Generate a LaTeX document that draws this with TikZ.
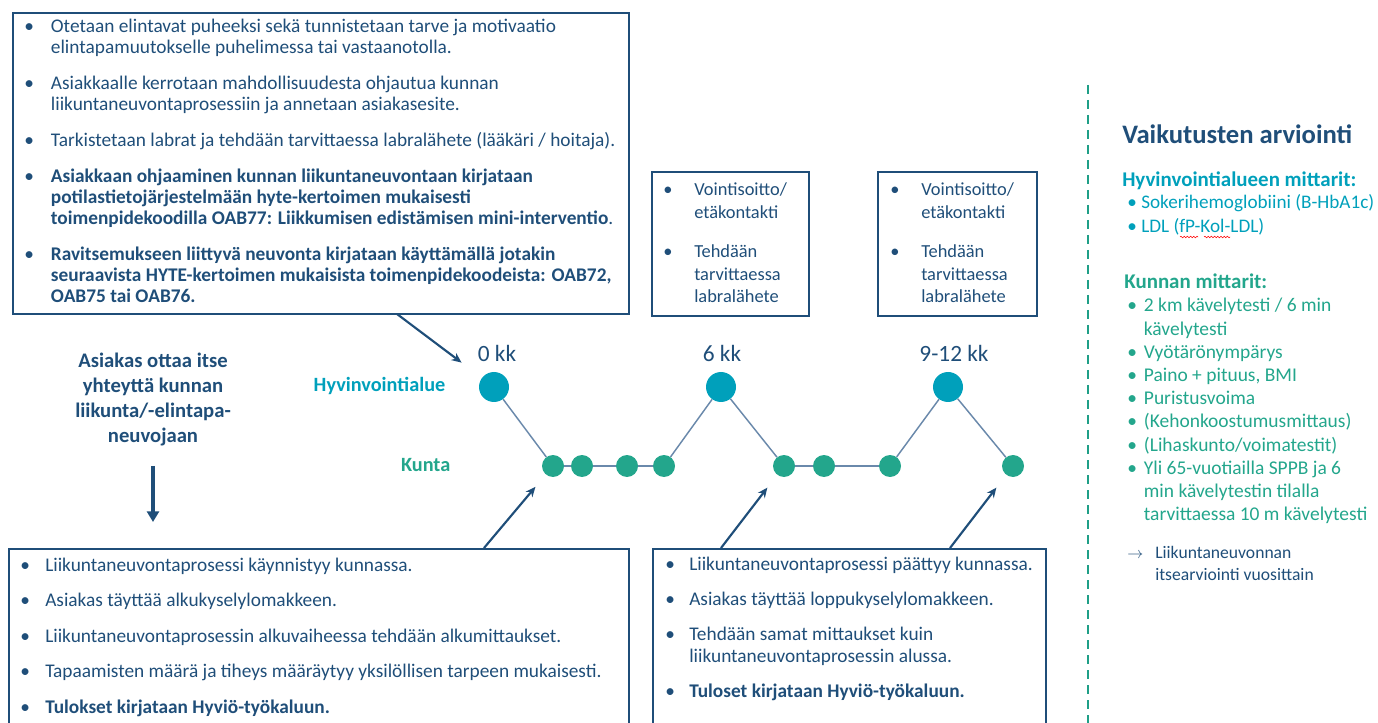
\documentclass[tikz,border=0pt]{standalone}
\usepackage{fontspec}
\setmainfont{Carlito}
\usetikzlibrary{arrows.meta,decorations.pathmorphing}

\definecolor{navy}{HTML}{1F4E79}
\definecolor{hva}{HTML}{00A0BB}
\definecolor{kun}{HTML}{23A68C}
\definecolor{link}{HTML}{6A89AB}
\definecolor{sep}{HTML}{1F9F87}

% bullet rows: first column holds the bullet, second the text
\newcommand{\blist}[2]{\begin{tabular}[t]{@{}p{#1}@{}l@{}}#2\end{tabular}}

\begin{document}
\begin{tikzpicture}
[x=0.75pt,y=-0.75pt,
 box/.style={draw=navy,line width=1.5pt,anchor=north west,inner sep=0pt},
 txt/.style={anchor=base west,inner sep=0pt,text=navy},
 big/.style={circle,fill=hva,minimum size=22.5pt,inner sep=0pt},
 small/.style={circle,fill=kun,minimum size=16.5pt,inner sep=0pt},
 ln/.style={draw=link,line width=1.1pt},
 ar/.style={-{Stealth[length=7.5pt,width=6.5pt]},draw=navy,line width=1.6pt},
 month/.style={anchor=base,text=navy,font=\fontsize{17.5}{20}\selectfont}]

\useasboundingbox (0,0) rectangle (1378,723);
\clip (0,0) rectangle (1378,723);

% frames
\node [box,minimum width=462pt,minimum height=225.75pt] at (12,12) (top) {};
\node [box,minimum width=117.75pt,minimum height=108pt] at (651,171) (sixbox) {};
\node [box,minimum width=119.25pt,minimum height=108pt] at (877,171) (endbox) {};
\node [box,minimum width=465pt,minimum height=144pt] at (8,548) (start) {};
\node [box,minimum width=294.75pt,minimum height=144pt] at (652,548) (close) {};

% hyvinvointialue, 0 kk
\node [txt,font=\fontsize{14.5}{15.75}\selectfont] at (24,33) (toptext) {\blist{20pt}{
\textbullet & Otetaan elintavat puheeksi sekä tunnistetaan tarve ja motivaatio\\
 & elintapamuutokselle puhelimessa tai vastaanotolla.\\[11.25pt]
\textbullet & Asiakkaalle kerrotaan mahdollisuudesta ohjautua kunnan\\
 & liikuntaneuvontaprosessiin ja annetaan asiakasesite.\\[11.25pt]
\textbullet & Tarkistetaan labrat ja tehdään tarvittaessa labralähete (lääkäri / hoitaja).\\[11.25pt]
\textbullet & \textbf{Asiakkaan ohjaaminen kunnan liikuntaneuvontaan kirjataan}\\
 & \textbf{potilastietojärjestelmään hyte-kertoimen mukaisesti}\\
 & \textbf{toimenpidekoodilla OAB77: Liikkumisen edistämisen mini-interventio}.\\[11.25pt]
\textbullet & \textbf{Ravitsemukseen liittyvä neuvonta kirjataan käyttämällä jotakin}\\
 & \textbf{seuraavista HYTE-kertoimen mukaisista toimenpidekoodeista: OAB72,}\\
 & \textbf{OAB75 tai OAB76.}}};

% 6 kk and 9-12 kk
\node [txt,font=\fontsize{13.8}{16.9}\selectfont] at (663,196) (sixtext) {\blist{23.25pt}{
\textbullet & Vointisoitto/\\ & etäkontakti\\[12.4pt]
\textbullet & Tehdään\\ & tarvittaessa\\ & labralähete}};
\node [txt,font=\fontsize{13.8}{16.9}\selectfont] at (890,196) (endtext) {\blist{23.25pt}{
\textbullet & Vointisoitto/\\ & etäkontakti\\[12.4pt]
\textbullet & Tehdään\\ & tarvittaessa\\ & labralähete}};

% kunta, start and end
\node [txt,font=\fontsize{14.5}{15.75}\selectfont] at (20,571) (starttext) {\blist{18.75pt}{
\textbullet & Liikuntaneuvontaprosessi käynnistyy kunnassa.\\[10.9pt]
\textbullet & Asiakas täyttää alkukyselylomakkeen.\\[10.9pt]
\textbullet & Liikuntaneuvontaprosessin alkuvaiheessa tehdään alkumittaukset.\\[10.9pt]
\textbullet & Tapaamisten määrä ja tiheys määräytyy yksilöllisen tarpeen mukaisesti.\\[10.9pt]
\textbullet & \textbf{Tulokset kirjataan Hyviö-työkaluun.}}};
\node [txt,font=\fontsize{14.5}{16.5}\selectfont] at (665,570) (closetext) {\blist{18pt}{
\textbullet & Liikuntaneuvontaprosessi päättyy kunnassa.\\[9.75pt]
\textbullet & Asiakas täyttää loppukyselylomakkeen.\\[9.75pt]
\textbullet & Tehdään samat mittaukset kuin\\
 & liikuntaneuvontaprosessin alussa.\\[9.75pt]
\textbullet & \textbf{Tuloset kirjataan Hyviö-työkaluun.}}};

% self referral
\node [align=center,text=navy,font=\bfseries\fontsize{15.5}{18.5}\selectfont,anchor=base,inner sep=0pt] at (153,442) (ask)
  {Asiakas ottaa itse\\yhteyttä kunnan\\liikunta/-elintapa-\\neuvojaan};
\coordinate (askend) at (153,522);
\draw [-{Triangle[length=8pt,width=9pt]},draw=navy,line width=3pt,shorten <=15pt] (ask) -- (askend);

% timeline
\node [anchor=base east,text=hva,font=\bfseries\fontsize{15.2}{18}\selectfont] at (450,392) (hvalabel) {Hyvinvointialue};
\node [anchor=base east,text=kun,font=\bfseries\fontsize{15.2}{18}\selectfont] at (455,471) (kunlabel) {Kunta};

\node [big] at (494,387) (h0) {};
\node [big] at (721,387) (h6) {};
\node [big] at (948,387) (h12) {};
\node [small] at (553,466) (k1) {};
\node [small] at (582,466) (k2) {};
\node [small] at (627,466) (k3) {};
\node [small] at (664,466) (k4) {};
\node [small] at (784,466) (k5) {};
\node [small] at (824,466) (k6) {};
\node [small] at (890,466) (k7) {};
\node [small] at (1013,466) (k8) {};

\node [month] at (497,362) (m0) {0 kk};
\node [month] at (722,362) (m6) {6 kk};
\node [month] at (954,362) (m12) {9-12 kk};

\draw [ln] (h0) -- (k1);
\draw [ln] (k1) -- (k2);
\draw [ln] (k2) -- (k3);
\draw [ln] (k3) -- (k4);
\draw [ln] (k4) -- (h6);
\draw [ln] (h6) -- (k5);
\draw [ln] (k5) -- (k6);
\draw [ln] (k6) -- (k7);
\draw [ln] (k7) -- (h12);
\draw [ln] (h12) -- (k8);

\coordinate (t0) at (397,314);
\coordinate (s0) at (484,548);
\coordinate (c0) at (721,548);
\coordinate (c1) at (950,548);
\draw [ar,shorten >=19pt] (t0) -- (h0);
\draw [ar,shorten >=12pt] (s0) -- (k1);
\draw [ar,shorten >=12pt] (c0) -- (k5);
\draw [ar,shorten >=12pt] (c1) -- (k8);

% evaluation
\coordinate (septop) at (1088,85);
\coordinate (sepbot) at (1088,723);
\draw [sep,line width=2.2pt,dash pattern=on 6.75pt off 4.5pt] (septop) -- (sepbot);

\node [anchor=base west,inner sep=0pt,text=navy,font=\bfseries\fontsize{20}{24}\selectfont] at (1122,144) (title) {Vaikutusten arviointi};
\node [anchor=base west,inner sep=0pt,text=hva,font=\bfseries\fontsize{15.7}{18}\selectfont] at (1122,187) (hvamit) {Hyvinvointialueen mittarit:};
\node [txt,text=hva,font=\fontsize{14.4}{18}\selectfont] at (1127,209) (hvalist) {\blist{10.5pt}{
\textbullet & Sokerihemoglobiini (B-HbA1c)\\
\textbullet & LDL (fP-Kol-LDL)}};
\draw [red,line width=0.4pt,decorate,decoration={snake,amplitude=0.6pt,segment length=2.4pt}] (1180,237) -- (1198,237);
\draw [red,line width=0.4pt,decorate,decoration={snake,amplitude=0.6pt,segment length=2.4pt}] (1204,237) -- (1230,237);

\node [anchor=base west,inner sep=0pt,text=kun,font=\bfseries\fontsize{15.7}{18}\selectfont] at (1124,289) (kunmit) {Kunnan mittarit:};
\node [txt,text=kun,font=\fontsize{14.6}{17.4}\selectfont] at (1127,312) (kunlist) {\blist{12.5pt}{
\textbullet & 2 km kävelytesti / 6 min\\
 & kävelytesti\\
\textbullet & Vyötärönympärys\\
\textbullet & Paino + pituus, BMI\\
\textbullet & Puristusvoima\\
\textbullet & (Kehonkoostumusmittaus)\\
\textbullet & (Lihaskunto/voimatestit)\\
\textbullet & Yli 65-vuotiailla SPPB ja 6\\
 & min kävelytestin tilalla\\
 & tarvittaessa 10 m kävelytesti}};

\node [txt,font=\fontsize{13.2}{16.5}\selectfont] at (1127,558) (self) {\blist{21pt}{
$\rightarrow$ & Liikuntaneuvonnan\\
 & itsearviointi vuosittain}};
\end{tikzpicture}
\end{document}
